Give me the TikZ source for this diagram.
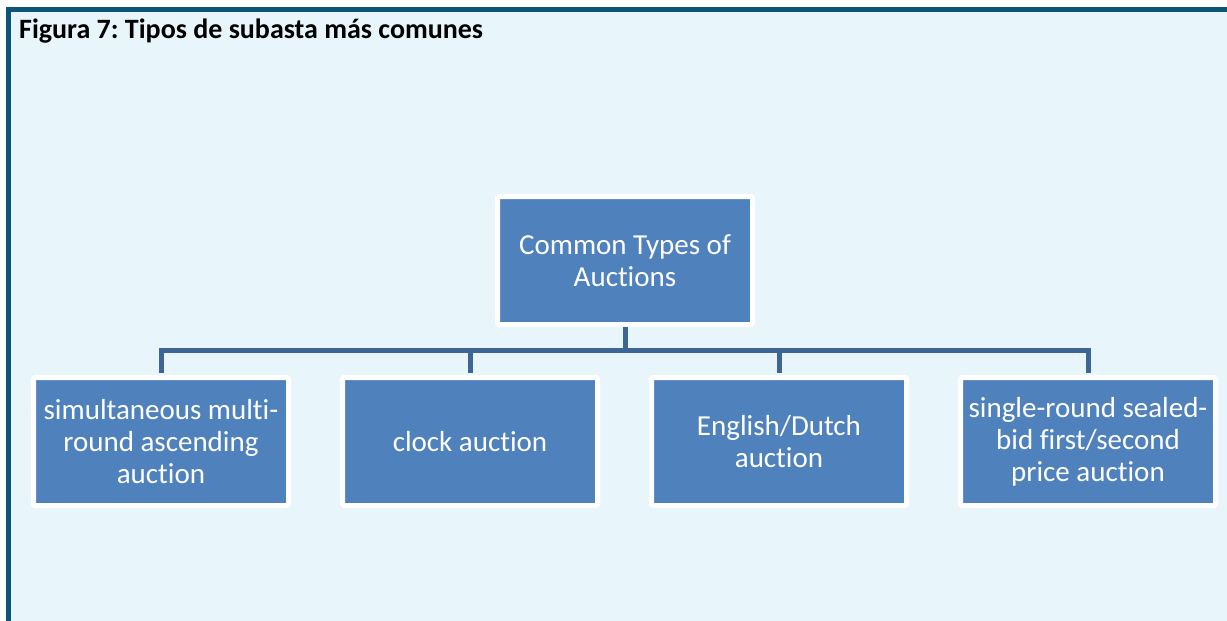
\documentclass[tikz,border=0pt]{standalone}
\usepackage{fontspec}
\setmainfont{Carlito}[Ligatures=NoCommon]
\frenchspacing
\definecolor{frame}{HTML}{0B5576}
\definecolor{bg}{HTML}{E8F6FC}
\definecolor{boxblue}{HTML}{4F81BD}
\definecolor{linkblue}{HTML}{3D6596}
\tikzset{
  box/.style={draw=white, line width=5pt, fill=boxblue, rounded corners=1.5pt,
    minimum width=255pt, minimum height=128pt, inner sep=0pt,
    text=white, align=center, font=\fontsize{29}{32}\selectfont},
  conn/.style={draw=linkblue, line width=5pt, shorten >=2.5pt},
}
\begin{document}
\begin{tikzpicture}[x=1pt,y=-1pt]
\useasboundingbox (0,0) rectangle (1227,621);
\fill[white] (0,0) rectangle (1227,621);
\fill[bg] (8.5,9.5) rectangle (1230,625);
\draw[frame, line width=5pt] (8.5,625) -- (8.5,9.5) -- (1230,9.5);
\node[anchor=base west, inner sep=0pt, font=\bfseries\fontsize{28}{32}\selectfont] (title) at (19,38.5) {Figura 7: Tipos de subasta más comunes};
\node[box] (root) at (625,260.5) {Common Types of\\Auctions};
\node[box] (c1) at (161,441.5) {simultaneous multi-\\round ascending\\auction};
\node[box] (c2) at (470,441.5) {clock auction};
\node[box] (c3) at (779,441.5) {English/Dutch\\auction};
\node[box] (c4) at (1088,441.5) {single-round sealed-\\bid first/second\\price auction};
\coordinate (bus) at (625,350.5);
\draw[conn, shorten >=0pt] (root.south) -- (bus);
\draw[conn] (c1.north |- bus) -- (c1.north);
\draw[conn] (c2.north |- bus) -- (c2.north);
\draw[conn] (c3.north |- bus) -- (c3.north);
\draw[conn] (c4.north |- bus) -- (c4.north);
\draw[conn, shorten >=0pt, line cap=rect] (c1.north |- bus) -- (c4.north |- bus);
\end{tikzpicture}
\end{document}
